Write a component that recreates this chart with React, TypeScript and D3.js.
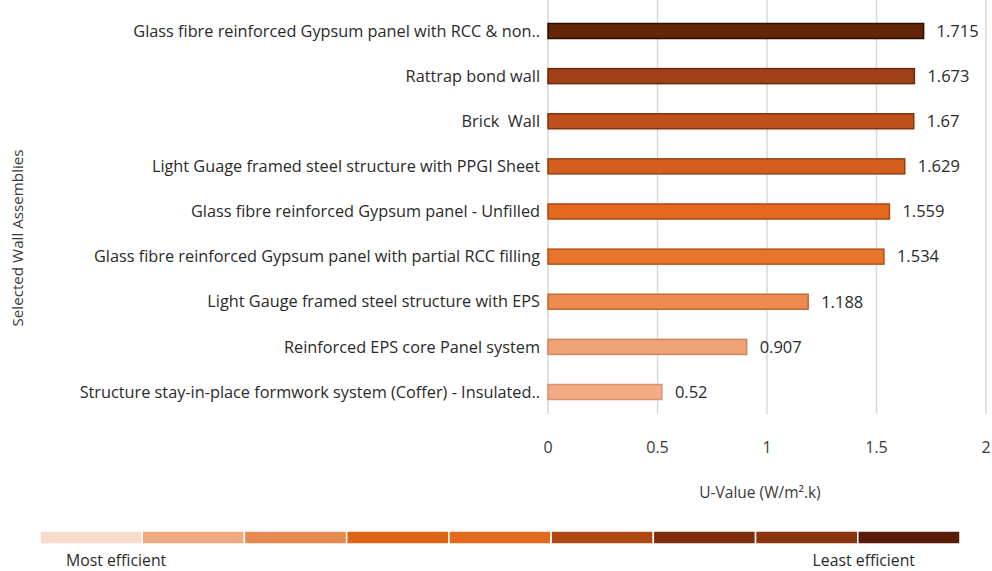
import React from "react";
import * as d3 from "d3";

// Wall assemblies, top to bottom, with their U-values (W/m².K)
const categories: string[] = [
  "Glass fibre reinforced Gypsum panel with RCC & non..",
  "Rattrap bond wall",
  "Brick  Wall",
  "Light Guage framed steel structure with PPGI Sheet",
  "Glass fibre reinforced Gypsum panel - Unfilled",
  "Glass fibre reinforced Gypsum panel with partial RCC filling",
  "Light Gauge framed steel structure with EPS",
  "Reinforced EPS core Panel system",
  "Structure stay-in-place formwork system (Coffer) - Insulated..",
];
const uValues: number[] = [1.715, 1.673, 1.67, 1.629, 1.559, 1.534, 1.188, 0.907, 0.52];
const valueLabels: string[] = ["1.715", "1.673", "1.67", "1.629", "1.559", "1.534", "1.188", "0.907", "0.52"];
const barColors: string[] = [
  "#632609", "#a0411a", "#bf511c", "#d35f1e", "#e4691f",
  "#e8742c", "#ec8a50", "#f0a277", "#f3ad85",
];
const barStrokes: string[] = [
  "#2e0f03", "#6a280b", "#84340e", "#94400f", "#a94a14",
  "#b45519", "#c06a38", "#cf8660", "#d79470",
];
const xTicks: number[] = [0, 0.5, 1, 1.5, 2];
const legendColors: string[] = [
  "#f7dccb", "#efaa80", "#e68a53", "#de6418", "#e06a1e",
  "#ad4814", "#7d2d0b", "#8a3510", "#571b08",
];

const FONT = "'Open Sans', 'Noto Sans', sans-serif";
const TEXT = "#2a2a2a";

export default function App() {
  const width = 992;
  const height = 571;

  const x = d3.scaleLinear().domain([0, 2]).range([548, 986]);
  const y = d3.scalePoint<string>().domain(categories).range([31, 392]);
  const barH = 15;

  const legend = d3
    .scaleBand<number>()
    .domain(d3.range(legendColors.length))
    .range([40, 960])
    .paddingInner(0);

  return (
    <svg
      width={width}
      height={height}
      style={{ position: "absolute", left: 0, top: 0, background: "#fff" }}
      fontFamily={FONT}
    >
      {/* vertical gridlines */}
      {xTicks.map((t) => (
        <line
          key={"g" + t}
          x1={x(t)}
          x2={x(t)}
          y1={0}
          y2={414}
          stroke="#d9d9d9"
          strokeWidth={1.5}
        />
      ))}

      {/* bars */}
      {categories.map((c, i) => (
        <g key={c}>
          <rect
            x={x(0)}
            y={(y(c) as number) - barH / 2}
            width={x(uValues[i]) - x(0)}
            height={barH}
            fill={barColors[i]}
            stroke={barStrokes[i]}
            strokeWidth={1.5}
          />
          <text
            x={x(uValues[i]) + 13}
            y={y(c) as number}
            dy="0.35em"
            fontSize={16.5}
            fill={TEXT}
          >
            {valueLabels[i]}
          </text>
          <text
            x={540}
            y={y(c) as number}
            dy="0.35em"
            textAnchor="end"
            fontSize={16.3}
            fill={TEXT}
            style={{ whiteSpace: "pre" }}
          >
            {c}
          </text>
        </g>
      ))}

      {/* x tick labels */}
      {xTicks.map((t) => (
        <text
          key={"t" + t}
          x={x(t)}
          y={447}
          dy="0.35em"
          textAnchor="middle"
          fontSize={16}
          fill="#3a3a3a"
        >
          {String(t)}
        </text>
      ))}

      {/* axis titles */}
      <text x={760} y={493} dy="0.35em" textAnchor="middle" fontSize={15.5} fill="#3a3a3a">
        U-Value (W/m².k)
      </text>
      <text
        transform="translate(18,238) rotate(-90)"
        dy="0.35em"
        textAnchor="middle"
        fontSize={15.2}
        fill="#3a3a3a"
      >
        Selected Wall Assemblies
      </text>

      {/* efficiency scale */}
      {legendColors.map((col, i) => (
        <rect
          key={"l" + i}
          x={legend(i) as number}
          y={531}
          width={legend.bandwidth()}
          height={13}
          fill={col}
          stroke="#fff"
          strokeWidth={1.5}
        />
      ))}
      <text x={66} y={560} dy="0.35em" fontSize={15.8} fill={TEXT}>
        Most efficient
      </text>
      <text x={915} y={560} dy="0.35em" textAnchor="end" fontSize={15.8} fill={TEXT}>
        Least efficient
      </text>
    </svg>
  );
}
